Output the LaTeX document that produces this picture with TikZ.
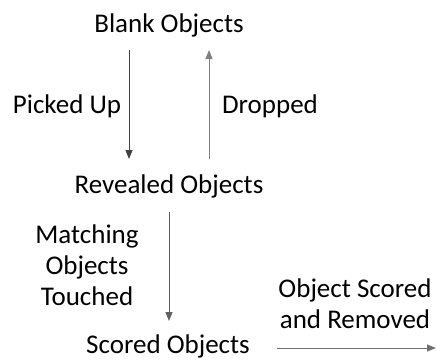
\documentclass[tikz,border=0pt]{standalone}
\usepackage{fontspec}
\setmainfont{Carlito}
\usetikzlibrary{arrows.meta}
\begin{document}
\begin{tikzpicture}[x=1pt,y=-1pt,
  lbl/.style={anchor=base,inner sep=0pt,font=\fontsize{27}{31}\selectfont,text=black,align=center},
  arr/.style={line width=1pt,-{Triangle[length=9pt,width=7pt]}}]
\useasboundingbox (0,0) rectangle (436,360);
\node[lbl] (blank) at (169,32) {Blank Objects};
\node[lbl] (revealed) at (169,193) {Revealed Objects};
\node[lbl] (scored) at (168,353) {Scored Objects};
\node[lbl] (picked) at (67,113) {Picked Up};
\node[lbl] (dropped) at (270,113) {Dropped};
\node[lbl] (matching) at (87,305) {Matching\\Objects\\Touched};
\node[lbl] (osr) at (355,328) {Object Scored\\and Removed};
\coordinate (p1) at (129,50);
\coordinate (p2) at (129,159);
\coordinate (d1) at (209,159);
\coordinate (d2) at (209,50);
\coordinate (m1) at (169,212);
\coordinate (m2) at (169,321);
\coordinate (s1) at (277,348);
\coordinate (s2) at (436,348);
\draw[arr,draw={rgb,255:red,64;green,64;blue,64},fill={rgb,255:red,64;green,64;blue,64}] (p1) -- (p2);
\draw[arr,draw={rgb,255:red,128;green,128;blue,128},fill={rgb,255:red,128;green,128;blue,128}] (d1) -- (d2);
\draw[arr,draw={rgb,255:red,96;green,96;blue,96},fill={rgb,255:red,96;green,96;blue,96}] (m1) -- (m2);
\draw[arr,draw={rgb,255:red,112;green,112;blue,112},fill={rgb,255:red,112;green,112;blue,112}] (s1) -- (s2);
\end{tikzpicture}
\end{document}
